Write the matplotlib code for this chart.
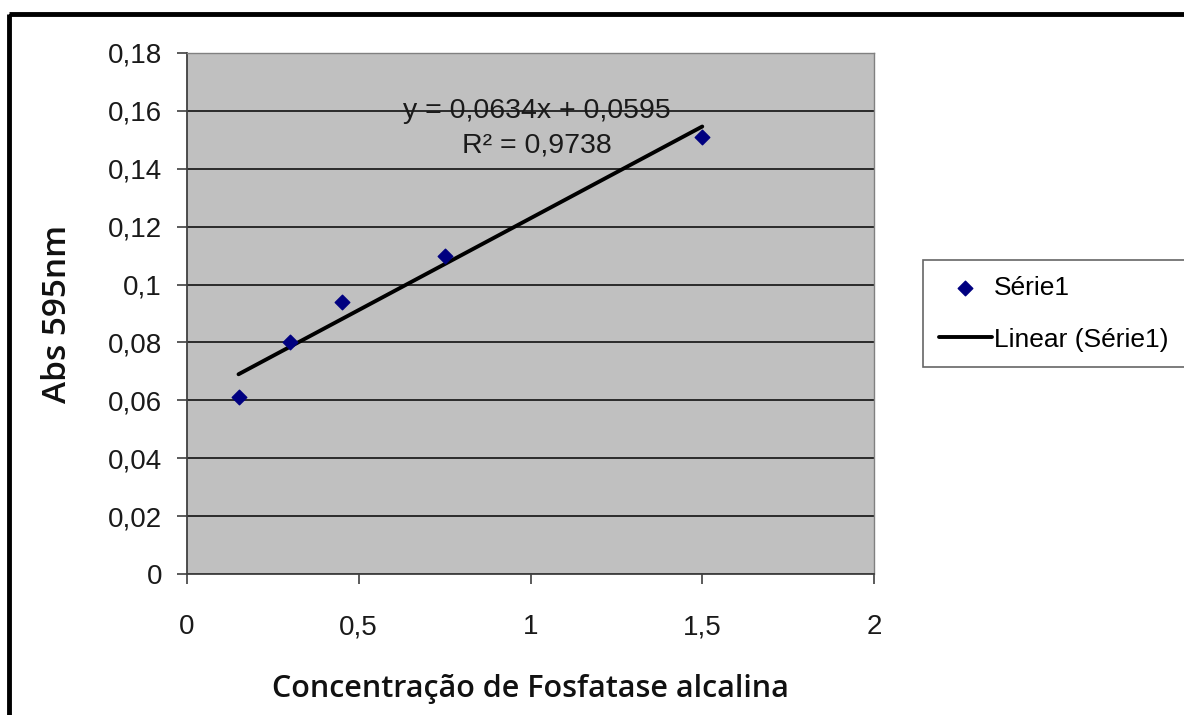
import numpy as np
import matplotlib.pyplot as plt
from matplotlib.patches import Rectangle

# dados
conc = [0.15, 0.3, 0.45, 0.75, 1.5]
absorb = [0.061, 0.080, 0.094, 0.110, 0.151]
slope, intercept = 0.0634, 0.0595
r2_txt = "0,9738"

y_ticks = [0, 0.02, 0.04, 0.06, 0.08, 0.1, 0.12, 0.14, 0.16, 0.18]
y_labels = ["0", "0,02", "0,04", "0,06", "0,08", "0,1", "0,12", "0,14", "0,16", "0,18"]
x_ticks = [0, 0.5, 1, 1.5, 2]
x_labels = ["0", "0,5", "1", "1,5", "2"]

plt.rcParams['font.family'] = ['Liberation Sans', 'DejaVu Sans']

fig = plt.figure(figsize=(11.84, 7.15), dpi=100)
ax = fig.add_axes([187/1184, 1 - 574/715, 687/1184, 521/715])

# moldura preta
fig.patches.append(Rectangle((9/1184, 1 - 14/715), 1.0, -1.0, transform=fig.transFigure,
                             fill=False, edgecolor='black', linewidth=3.5))

ax.set_facecolor('#c0c0c0')
ax.set_xlim(0, 2)
ax.set_ylim(0, 0.18)
ax.set_yticks(y_ticks)
ax.set_yticklabels(y_labels)
ax.set_xticks(x_ticks)
ax.set_xticklabels(x_labels)
ax.yaxis.grid(True, color='#2a2a2a', linewidth=1.4)
ax.set_axisbelow(True)
ax.tick_params(axis='both', labelsize=20, length=7, width=1.2, color='#404040',
               labelcolor='#1a1a1a', direction='out')
ax.tick_params(axis='x', pad=22)
ax.tick_params(axis='y', pad=11)
for s in ['left', 'bottom']:
    ax.spines[s].set_color('#404040')
    ax.spines[s].set_linewidth(1.3)
for s in ['top', 'right']:
    ax.spines[s].set_color('#808080')
    ax.spines[s].set_linewidth(1.0)

ax.scatter(conc, absorb, marker='D', s=55, color='#000080', zorder=4, label='Série1')

xt = np.array([conc[0], conc[-1]])
ax.plot(xt, slope * xt + intercept, color='black', linewidth=2.8, zorder=3,
        solid_capstyle='round', label='Linear (Série1)')

ax.text(1.02, 0.1598, "y = 0,0634x + 0,0595", ha='center', va='center', fontsize=20.5, color='#1a1a1a')
ax.text(1.02, 0.148, "R² = " + r2_txt, ha='center', va='center', fontsize=20.5, color='#1a1a1a')

ax.set_xlabel("Concentração de Fosfatase alcalina", family=['Open Sans', 'DejaVu Sans'],
              fontsize=22, fontweight='semibold', labelpad=24, color='#111111')
ax.set_ylabel("Abs 595nm", family=['Open Sans', 'DejaVu Sans'],
              fontsize=24, fontweight='semibold', labelpad=24, color='#111111')

leg = fig.legend(loc='upper left', bbox_to_anchor=(923/1184, 1 - 260/715), fontsize=19,
                 frameon=True, fancybox=False, edgecolor='#404040', handlelength=2.0,
                 handletextpad=0.1, borderpad=0.6, borderaxespad=0, labelspacing=1.05)
leg.get_frame().set_linewidth(1.2)

fig.savefig('out.png', dpi=100)
